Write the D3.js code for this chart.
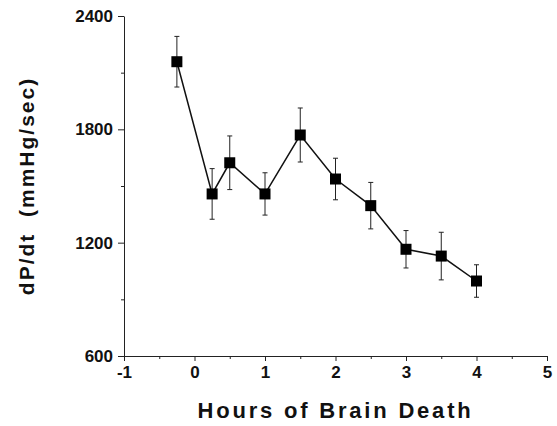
<!DOCTYPE html>
<html>
<head>
<meta charset="utf-8">
<script src="https://cdn.jsdelivr.net/npm/d3@7"></script>
<style>
  body { margin: 0; background: #fff; }
  svg { display: block; }
  text { font-family: "Liberation Sans", Arial, Helvetica, sans-serif; font-weight: bold; fill: #111; }
</style>
</head>
<body>
<div id="chart"></div>
<script>
// hours after brain death (x), dP/dt mean and SEM
const hours = [-0.25, 0.25, 0.5, 1, 1.5, 2, 2.5, 3, 3.5, 4]
const dpdt = [2158, 1458, 1623, 1458, 1770, 1537, 1396, 1165, 1129, 997]
const sem = [134, 134, 142, 112, 143, 110, 123, 99, 126, 86]

const xTicks = [-1, 0, 1, 2, 3, 4, 5]
const xMinor = [-0.5, 0.5, 1.5, 2.5, 3.5, 4.5]
const yTicks = [600, 1200, 1800, 2400]
const yMinor = [900, 1500, 2100]

const width = 557
const height = 426
const margin = { top: 16, right: 10, bottom: 70, left: 124 }

const svg = d3.select('#chart')
  .append('svg')
  .attr('width', width)
  .attr('height', height)
  .style('background', '#fff')

const x = d3.scaleLinear().domain([-1, 5]).range([margin.left, width - margin.right])
const y = d3.scaleLinear().domain([600, 2400]).range([height - margin.bottom, margin.top])

const data = hours.map((h, i) => ({ h, v: dpdt[i], e: sem[i] }))

// axes
const xAxis = svg.append('g')
  .attr('transform', `translate(0,${y(600)})`)
  .call(d3.axisBottom(x).tickValues(xTicks).tickFormat(d => String(d))
    .tickSizeInner(5).tickSizeOuter(0).tickPadding(5))
xAxis.append('g')
  .call(d3.axisBottom(x).tickValues(xMinor).tickFormat('').tickSize(3))
  .select('.domain').remove()

const yAxis = svg.append('g')
  .attr('transform', `translate(${x(-1)},0)`)
  .call(d3.axisLeft(y).tickValues(yTicks).tickFormat(d => String(d))
    .tickSizeInner(6).tickSizeOuter(0).tickPadding(5))
yAxis.append('g')
  .call(d3.axisLeft(y).tickValues(yMinor).tickFormat('').tickSize(3))
  .select('.domain').remove()

svg.selectAll('.domain, .tick line')
  .attr('stroke', '#222')
  .attr('stroke-width', 1)

xAxis.selectAll('text').style('font-size', '17px').attr('fill', '#111')
yAxis.selectAll('text').style('font-size', '17px').attr('fill', '#111')

// error bars
const bars = svg.append('g')
  .selectAll('g')
  .data(data)
  .enter().append('g')
    .attr('stroke', '#222')
    .attr('stroke-width', 1)

bars.append('line')
  .attr('x1', d => x(d.h)).attr('x2', d => x(d.h))
  .attr('y1', d => y(d.v + d.e)).attr('y2', d => y(d.v - d.e))
bars.append('line')
  .attr('x1', d => x(d.h) - 2.5).attr('x2', d => x(d.h) + 2.5)
  .attr('y1', d => y(d.v + d.e)).attr('y2', d => y(d.v + d.e))
bars.append('line')
  .attr('x1', d => x(d.h) - 2.5).attr('x2', d => x(d.h) + 2.5)
  .attr('y1', d => y(d.v - d.e)).attr('y2', d => y(d.v - d.e))

// connecting line
svg.append('path')
  .datum(data)
  .attr('fill', 'none')
  .attr('stroke', '#111')
  .attr('stroke-width', 1.5)
  .attr('d', d3.line().x(d => x(d.h)).y(d => y(d.v)))

// square markers
const s = 11
svg.append('g')
  .selectAll('rect')
  .data(data)
  .enter().append('rect')
    .attr('x', d => x(d.h) - s / 2)
    .attr('y', d => y(d.v) - s / 2)
    .attr('width', s)
    .attr('height', s)
    .attr('fill', '#000')

// axis titles
svg.append('text')
  .attr('x', (x(-1) + x(5)) / 2)
  .attr('y', 418)
  .attr('text-anchor', 'middle')
  .style('font-size', '22px')
  .style('letter-spacing', '2.8px')
  .text('Hours of Brain Death')

svg.append('text')
  .attr('transform', `translate(34,${(y(600) + y(2400)) / 2}) rotate(-90)`)
  .attr('text-anchor', 'middle')
  .style('font-size', '21px')
  .style('letter-spacing', '2px')
  .style('white-space', 'pre')
  .text('dP/dt  (mmHg/sec)')
</script>
</body>
</html>
